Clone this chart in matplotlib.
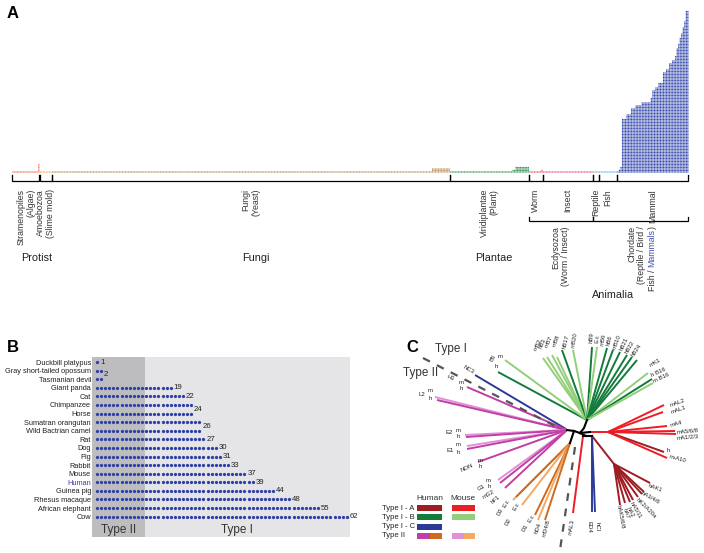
import matplotlib
matplotlib.use("Agg")
import matplotlib.pyplot as plt
import numpy as np
from matplotlib.patches import Rectangle

plt.rcParams["font.family"] = ["Liberation Sans", "DejaVu Sans"]

W, H = 704, 553

# ---------------- panel A data: (dots per species, number of species) runs ----------------
taxa = ["Stramenopiles\n(Algae)", "Amoebozoa\n(Slime mold)", "Fungi\n(Yeast)",
        "Viridiplantae\n(Plant)", "Worm", "Insect", "Reptile", "Fish", "Mammal"]
taxa_colors = ["#f26d50", "#f5b043", "#b98b5c", "#2e8b4f", "#e8474f",
               "#ea4a80", "#98a88a", "#5bb5e8", "#2f44aa"]
algae_runs = [(1, 17), (6, 1)]
slime_runs = [(1, 8)]
fungi_runs = [(1, 250), (3, 12)]
plant_runs = [(1, 41), (2, 2), (4, 9)]
worm_runs = [(1, 8), (2, 1)]
insect_runs = [(1, 33)]
reptile_runs = [(1, 4)]
fish_runs = [(1, 12)]
mammal_runs = [(1, 1), (2, 1), (4, 1), (36, 3), (39, 3), (43, 3), (45, 4), (47, 6),
               (50, 1), (55, 2), (57, 2), (60, 3), (67, 2), (69, 2), (73, 2), (75, 2),
               (78, 1), (83, 1), (86, 1), (90, 1), (93, 1), (97, 1), (101, 1), (108, 2)]
group_runs = [algae_runs, slime_runs, fungi_runs, plant_runs, worm_runs,
              insect_runs, reptile_runs, fish_runs, mammal_runs]
superclades = [("Ecdysozoa\n(Worm / Insect)", 4, 5), ("Chordate\n(Reptile / Bird /", 6, 8)]
kingdoms = [("Protist", 0, 1, "upper"), ("Fungi", 2, 2, "upper"),
            ("Plantae", 3, 3, "upper"), ("Animalia", 4, 8, "lower")]

# ---------------- panel B data ----------------
b_species = ["Duckbill platypus", "Gray short-tailed opossum", "Tasmanian devil",
             "Giant panda", "Cat", "Chimpanzee", "Horse", "Sumatran orangutan",
             "Wild Bactrian camel", "Rat", "Dog", "Pig", "Rabbit", "Mouse", "Human",
             "Guinea pig", "Rhesus macaque", "African elephant", "Cow"]
b_counts = [1, 2, 2, 19, 22, 24, 24, 26, 26, 27, 30, 31, 33, 37, 39, 44, 48, 55, 62]
b_type2_cut = 12.7

# ---------------- panel C data: unrooted tree, coordinates relative to the central node ----------------
IA_h, IA_m = "#9e1c22", "#ee1d25"
IB_h, IB_m = "#137b3c", "#93cf78"
IC_h = "#2c3995"
II_h1, II_h2, II_m1, II_m2 = "#c03ea5", "#d06a1e", "#e38fd6", "#f4a963"

backbone_x = [[0, 4, 7], [0, -6, -13], [-6, -10], [0, 10], [0, 6, 12], [6, 3]]
backbone_y = [[0, 5, 13], [0, 2, 3], [2, -10], [0, 1], [0, -3, -3], [-3, -3]]

green_node = (7, 13)
green_tips_x = [-82, -75, -37, -33, -28, -23, -18, -7, 12, 17, 27, 33, 40, 47, 52, 57, 68, 72, 73]
green_tips_y = [61, 73, 75, 76, 78, 76, 83, 83, 86, 86, 85, 83, 81, 78, 76, 73, 60, 54, 50]
green_human = [1, 0, 0, 0, 0, 0, 1, 0, 1, 0, 1, 1, 1, 1, 1, 1, 0, 1, 0]

red_stem = (10, 1)
red_node = (28, 1)
red_tips_x = [84, 83, 87, 95, 96, 84, 87]
red_tips_y = [28, 21, 7, 2, -1, -19, -25]
red_human = [0, 0, 0, 0, 0, 1, 0]

darkred_stem = (12, -3)
darkred_node = (34, -31)
darkred_tips_x = [70, 40, 45, 50, 53, 58, 62, 64]
darkred_tips_y = [-50, -72, -70, -69, -67, -64, -61, -59]

blue_node = (12, -3)
blue_tips_x = [12, 15]
blue_tips_y = [-79, -79]
nc3_from, nc3_tip = (-14, 4), (-105, 58)
mal3_from, mal3_tip = (3, -3), (-7, -80)

pink_node = (-13, 3)
pink_tips_x = [-145, -143, -113, -115, -114, -113, -113, -102, -82, -80, -75]
pink_tips_y = [36, 33, 46, -2, -4, -13, -16, -29, -47, -50, -55]
pink_human = [0, 1, 1, 0, 1, 0, 1, 1, 0, 1, 1]

orange_node = (-10, -10)
orange_tips_x = [-67, -64, -58, -45, -42, -35]
orange_tips_y = [-67, -64, -72, -82, -87, -87]
orange_human = [0, 1, 0, 1, 0, 1]

divider1_x, divider1_y = [-157, -25], [75, 7]
divider2_x, divider2_y = [-5, -20], [-14, -117]

tip_labels = [
    (-42, 88, "mB2", 65), (-37, 90, "hB3", 65), (-31, 91, "mB7", 65), (-24, 92, "mB8", 70),
    (-14, 91, "hB17", 75), (-5, 93, "mB20", 80), (12, 95, "hB9", 85), (17, 94, "E.c", 85),
    (23, 93, "mB6", 80), (30, 93, "hB6", 75), (37, 91, "mB10", 70), (44, 89, "hB21", 65),
    (50, 86, "hB22", 60), (56, 83, "hB24", 55),
    (75, 70, "mK1", 30), (78, 61, "h B16", 25), (81, 55, "m B16", 25),
    (-87, 75, "B5", 60), (-80, 76, "m", 0), (-84, 66, "h", 0),
    (-112, 63, "NC3", -30), (-129, 55, "H1", -20), (-119, 51, "m", 0), (-119, 45, "h", 0),
    (-158, 39, "L2", 0), (-150, 43, "m", 0), (-150, 35, "h", 0),
    (-131, 0, "E2", 0), (-122, 3, "m", 0), (-122, -4, "h", 0),
    (-130, -17, "E1", 0), (-122, -12, "m", 0), (-122, -19, "h", 0),
    (-113, -35, "NON", 25), (-100, -27, "m", 0), (-100, -34, "h", 0),
    (-99, -55, "G1", 30), (-92, -47, "m", 0), (-91, -53, "h", 0),
    (-91, -61, "mG2", 30), (-84, -67, "hF1", 40),
    (-80, -79, "D3", 60), (-74, -71, "E.c", 60), (-64, -74, "E.c", 60),
    (-72, -89, "D2", 60), (-55, -95, "D1", 60), (-49, -86, "E.c", 60),
    (-42, -95, "hD4", 70), (-34, -95, "mD4/8", 75), (-8, -94, "mAL3", 80),
    (9, -94, "ED4", -90), (17, -94, "hCl", -90),
    (40, -84, "hAK5/6/8", -80), (46, -81, "hA7", -70), (50, -79, "hA2", -65),
    (56, -77, "hA5/11", -60), (66, -75, "hK2/A20a", -45), (70, -65, "hA3/4/6", -30),
    (75, -55, "hAK1", -20),
    (98, 30, "mAL2", 20), (99, 23, "mAL1", 20), (96, 9, "mA4", 15),
    (108, 1, "mA5/6/8", 5), (108, -5, "mA1/2/3", 5), (88, -17, "h", 0), (98, -26, "m-A10", -15),
]

legend_rows = ["Type I - A", "Type I - B", "Type I - C", "Type II"]
legend_human = [[IA_h], [IB_h], [IC_h], [II_h1, II_h2]]
legend_mouse = [[IA_m], [IB_m], [], [II_m1, II_m2]]


fig = plt.figure(figsize=(W / 100, H / 100), dpi=100)


def px_axes(x0, y0, x1, y1):
    return fig.add_axes([x0 / W, 1 - y1 / H, (x1 - x0) / W, (y1 - y0) / H])


# ============ panel A ============
axa = px_axes(0, 0, W, 305)
axa.set_axis_off()
axa.set_xlim(-13 / 1.52, (W - 13) / 1.52)
axa.set_ylim((172 - 305) / 1.5, 172 / 1.5)

# one small square per gene: a dot plot drawn as tiny bars
dot_w, dot_h = 0.76, 0.77
spans = []
start = 0
for runs, color in zip(group_runs, taxa_colors):
    heights = np.repeat([c for c, n in runs], [n for c, n in runs])
    xs = np.repeat(np.arange(start, start + len(heights)), heights)
    ys = np.concatenate([np.arange(h) for h in heights])
    axa.bar(xs, dot_h, bottom=ys - dot_h / 2, width=dot_w, color=color, linewidth=0,
            snap=False)
    spans.append((start, start + len(heights) - 1))
    start += len(heights)


def bracket(ax, x0, x1, y, tick):
    ax.plot([x0, x0, x1, x1], [y + tick, y, y, y + tick], color="black", lw=0.9,
            solid_joinstyle="miter")


for (s, e), name in zip(spans, taxa):
    bracket(axa, s - 0.4, e + 0.4, -6, 4)
    axa.text((s + e) / 2, -11.3, name, rotation=90, ha="center", va="top",
             multialignment="right", fontsize=6.3, color="#333333", linespacing=1.1)

for name, g0, g1 in superclades:
    x0, x1 = spans[g0][0] - 0.4, spans[g1][1] + 0.4
    bracket(axa, x0, x1, -32.7, 3)
    xc = (x0 + x1) / 2
    if name.startswith("Chordate"):
        axa.text(xc - 2.5, -36, name, rotation=90, ha="center", va="top",
                 multialignment="right", fontsize=6.3, color="#333333", linespacing=1.1)
        t1 = axa.text(xc + 7.5, -36, ")", rotation=90, ha="center", va="top",
                      fontsize=6.3, color="#333333")
        t2 = axa.annotate("Mammals", xy=(0.5, 0), xycoords=t1, rotation=90, ha="center",
                          va="top", fontsize=6.3, color="#3f54b2")
        axa.annotate("Fish / ", xy=(0.5, 0), xycoords=t2, rotation=90, ha="center",
                     va="top", fontsize=6.3, color="#333333")
    else:
        axa.text(xc, -36, name, rotation=90, ha="center", va="top",
                 multialignment="right", fontsize=6.3, color="#333333", linespacing=1.1)

for name, g0, g1, level in kingdoms:
    xc = (spans[g0][0] + spans[g1][1]) / 2
    y = -57.3 if level == "upper" else -82
    axa.text(xc + 3, y, name, ha="center", va="center", fontsize=7.8, color="#222222")

fig.text(7 / W, 1 - 14 / H, "A", fontsize=12, fontweight="bold", va="center")

# ============ panel B ============
axb = px_axes(92, 357, 350, 537)
xlo, xhi = 1 - 5 / 4.095, 1 + 253 / 4.095
axb.set_xlim(xlo, xhi)
axb.set_ylim(18 + 20.3 / 8.58, -5 / 8.58)
axb.axvspan(xlo, b_type2_cut, color="#bdbdc0", lw=0)
axb.axvspan(b_type2_cut, xhi, color="#e5e5e7", lw=0)
for sp in axb.spines.values():
    sp.set_visible(False)
axb.set_xticks([])
rows = np.arange(len(b_species))
axb.set_yticks(rows)
axb.set_yticklabels(b_species, fontsize=5.3, color="#222222")
axb.tick_params(axis="y", length=0, pad=0.8)
axb.get_yticklabels()[b_species.index("Human")].set_color("#3a3aa8")

for r, n in zip(rows, b_counts):
    axb.scatter(np.arange(1, n + 1), np.full(n, r), s=5.5, color="#2f3fa8",
                linewidths=0, clip_on=False, zorder=3)

# value labels, shared between consecutive rows with equal counts
i = 0
while i < len(b_counts):
    j = i
    while j + 1 < len(b_counts) and b_counts[j + 1] == b_counts[i]:
        j += 1
    axb.text(b_counts[i] + 0.7, (i + j) / 2, str(b_counts[i]), fontsize=5.6,
             va="center", ha="left", color="#222222", clip_on=False)
    i = j + 1

axb.text((xlo + b_type2_cut) / 2, 19.6, "Type II", ha="center", va="center",
         fontsize=8.5, color="#333333")
axb.text(35.2, 19.6, "Type I", ha="center", va="center",
         fontsize=8.5, color="#333333")
fig.text(7 / W, 1 - 347 / H, "B", fontsize=12, fontweight="bold", va="center")

# ============ panel C ============
axc = px_axes(360, 330, 704, 553)
axc.set_axis_off()
axc.set_xlim(-220, 124)
axc.set_ylim(-120, 103)
lw = 1.4


def fan(node, xs, ys, colors):
    for x, y, c in zip(xs, ys, colors):
        axc.plot([node[0], x], [node[1], y], color=c, lw=lw, solid_capstyle="butt")


fan(green_node, green_tips_x, green_tips_y, [IB_h if h else IB_m for h in green_human])
axc.plot([red_stem[0], red_node[0]], [red_stem[1], red_node[1]], color=IA_m, lw=lw)
fan(red_node, red_tips_x, red_tips_y, [IA_h if h else IA_m for h in red_human])
axc.plot([darkred_stem[0], darkred_node[0]], [darkred_stem[1], darkred_node[1]], color=IA_h, lw=lw)
fan(darkred_node, darkred_tips_x, darkred_tips_y, [IA_h] * len(darkred_tips_x))
fan(blue_node, blue_tips_x, blue_tips_y, [IC_h] * len(blue_tips_x))
fan(nc3_from, [nc3_tip[0]], [nc3_tip[1]], [IC_h])
fan(mal3_from, [mal3_tip[0]], [mal3_tip[1]], [IA_m])
fan(pink_node, pink_tips_x, pink_tips_y, [II_h1 if h else II_m1 for h in pink_human])
fan(orange_node, orange_tips_x, orange_tips_y, [II_h2 if h else II_m2 for h in orange_human])
for bx, by in zip(backbone_x, backbone_y):
    axc.plot(bx, by, color="black", lw=1.5, zorder=4)

for dx, dy in [(divider1_x, divider1_y), (divider2_x, divider2_y)]:
    axc.plot(dx, dy, color="#555555", lw=1.6, dashes=(3.5, 3.5))

for x, y, t, rot in tip_labels:
    axc.text(x, y, t, fontsize=4.3, rotation=rot, ha="center", va="center",
             color="#222222", rotation_mode="anchor")

axc.text(-145, 84, "Type I", fontsize=8.5, ha="left", va="center", color="#333333")
axc.text(-177, 60, "Type II", fontsize=8.5, ha="left", va="center", color="#333333")
fig.text(406 / W, 1 - 347 / H, "C", fontsize=12, fontweight="bold", va="center")

# legend
axc.text(-150, -66, "Human", fontsize=6, ha="center", va="center", color="#333333")
axc.text(-117, -66, "Mouse", fontsize=6, ha="center", va="center", color="#333333")
for k, (name, hcols, mcols) in enumerate(zip(legend_rows, legend_human, legend_mouse)):
    y = -75 - 9.3 * k
    axc.text(-198, y, name, fontsize=5.5, ha="left", va="center", color="#222222")
    for cols, x0, x1 in [(hcols, -163, -138), (mcols, -128, -105)]:
        if not cols:
            continue
        w = (x1 - x0) / len(cols)
        for m, c in enumerate(cols):
            axc.add_patch(Rectangle((x0 + m * w, y - 3), w, 6, color=c, lw=0))

fig.savefig("out.png", dpi=100)
